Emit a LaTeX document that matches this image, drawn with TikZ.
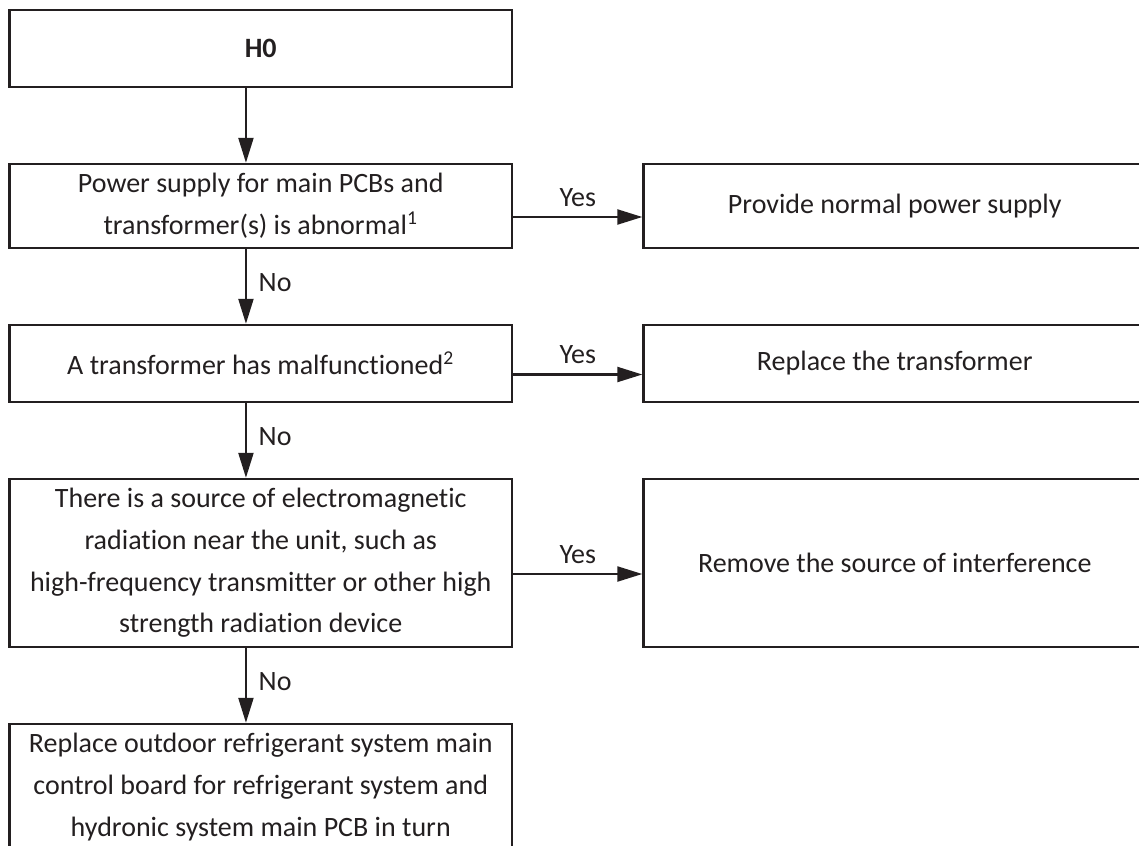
\documentclass[tikz,border=0pt]{standalone}
\usepackage{fontspec}
\setmainfont{Carlito}[Ligatures=NoCommon]
\usetikzlibrary{arrows.meta,positioning}
\definecolor{Ink}{HTML}{231F20}
\newcommand{\boxfont}{\fontsize{14pt}{20.8pt}\selectfont}

\begin{document}
\begin{tikzpicture}[
    box/.style={draw=Ink,line width=1.2pt,minimum width=251.25pt,align=center,
      text=Ink,font=\boxfont},
    arr/.style={-{Triangle[length=12.5pt,width=7.5pt]},line width=1.1pt,Ink},
    lbl/.style={text=Ink,font=\boxfont},
    node distance=37.3pt and 64.55pt
  ]
    \useasboundingbox (0,0) rectangle (569.5pt,-422.5pt);
    \clip (0,0) rectangle (569.5pt,-422.5pt);
    % checks, left column
    \node[box,minimum height=38.5pt,anchor=north west] (h0) at (4.15pt,-4.4pt) {\textbf{H0}};
    \node[box,minimum height=42pt,below=of h0] (power) {Power supply for main PCBs and\\transformer(s) is abnormal\textsuperscript{1}};
    \node[box,minimum height=38.5pt,below=of power] (trafo) {A transformer has malfunctioned\textsuperscript{2}};
    \node[box,minimum height=84pt,below=of trafo] (source) {There is a source of electromagnetic\\radiation near the unit, such as\\high-frequency transmitter or other high\\strength radiation device};
    \node[box,minimum height=63pt,below=of source] (board) {Replace outdoor refrigerant system main\\control board for refrigerant system and\\hydronic system main PCB in turn};
    % actions, right column
    \node[box,minimum height=42pt,right=of power] (supply) {Provide normal power supply};
    \node[box,minimum height=38.5pt,right=of trafo] (swap) {Replace the transformer};
    \node[box,minimum height=84pt,right=of source] (remove) {Remove the source of interference};
    % connectors
    \draw[arr] ([xshift=-7.4pt]h0.south) -- ([xshift=-7.4pt]power.north);
    \foreach \a/\b in {power/trafo,trafo/source,source/board}
      \draw[arr] ([xshift=-7.4pt]\a.south) -- node[lbl,right=2.5pt,yshift=2pt]{No} ([xshift=-7.4pt]\b.north);
    \foreach \a/\b in {power/supply,trafo/swap,source/remove}
      \draw[arr] ([yshift=-5.5pt]\a.east) -- node[lbl,above=1.3pt]{Yes} ([yshift=-5.5pt]\b.west);
\end{tikzpicture}
\end{document}
